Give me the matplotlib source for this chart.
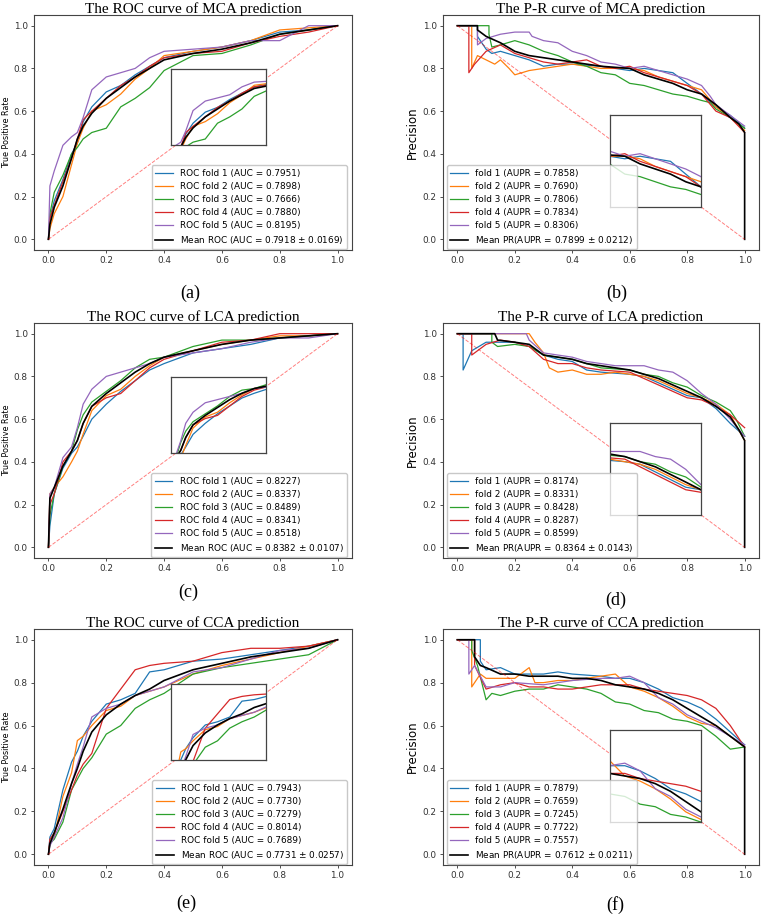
import numpy as np
import matplotlib.pyplot as plt

# ROC curves, read at a shared grid of false positive rates
roc_fpr = [0, 0.005, 0.02, 0.05, 0.08, 0.1, 0.12, 0.15, 0.2, 0.25, 0.3, 0.35, 0.4, 0.5, 0.6, 0.7, 0.8, 0.9, 1.0]

mca_roc_mean = [0, .07, .15, .25, .38, .47, .53, .59, .66, .71, .76, .80, .84, .87, .89, .92, .96, .98, 1]
mca_roc_f1 = [0, .10, .18, .28, .40, .45, .55, .62, .69, .72, .77, .81, .85, .88, .90, .93, .97, .98, 1]
mca_roc_f2 = [0, .05, .12, .20, .35, .45, .52, .60, .63, .68, .75, .80, .86, .88, .90, .93, .98, .99, 1]
mca_roc_f3 = [0, .12, .22, .30, .40, .43, .47, .50, .52, .62, .66, .71, .79, .86, .87, .91, .96, .98, 1]
mca_roc_f4 = [0, .10, .16, .27, .38, .47, .56, .60, .66, .72, .76, .81, .85, .87, .88, .92, .95, .97, 1]
mca_roc_f5 = [0, .25, .32, .44, .48, .50, .57, .70, .76, .78, .80, .85, .88, .89, .90, .93, .93, 1.0, 1]

lca_roc_mean = [0, .23, .28, .38, .45, .50, .58, .66, .72, .77, .82, .86, .89, .92, .95, .97, .98, .99, 1]
lca_roc_f1 = [0, .10, .25, .37, .44, .47, .52, .60, .67, .73, .78, .83, .86, .91, .93, .95, .98, .99, 1]
lca_roc_f2 = [0, .25, .28, .33, .40, .45, .53, .64, .71, .74, .80, .85, .89, .92, .95, .97, .99, .99, 1]
lca_roc_f3 = [0, .15, .25, .38, .45, .55, .62, .68, .73, .78, .84, .88, .89, .94, .97, .97, .98, .99, 1]
lca_roc_f4 = [0, .20, .25, .40, .45, .50, .58, .66, .70, .72, .78, .84, .88, .92, .96, .97, 1.0, 1.0, 1]
lca_roc_f5 = [0, .25, .28, .42, .47, .56, .67, .74, .80, .82, .84, .86, .89, .91, .93, .96, .98, .98, 1]

cca_roc_mean = [0, .05, .10, .21, .33, .40, .48, .57, .65, .70, .74, .77, .81, .86, .89, .92, .94, .96, 1]
cca_roc_f1 = [0, .08, .12, .30, .43, .48, .55, .62, .70, .72, .75, .85, .86, .90, .91, .93, .95, .97, 1]
cca_roc_f2 = [0, .05, .08, .27, .38, .53, .55, .60, .67, .69, .74, .76, .78, .84, .88, .91, .94, .97, 1]
cca_roc_f3 = [0, .05, .07, .15, .30, .35, .40, .45, .56, .60, .68, .72, .75, .84, .87, .89, .91, .93, 1]
cca_roc_f4 = [0, .07, .10, .20, .30, .37, .42, .47, .68, .77, .86, .88, .89, .90, .94, .96, .96, .97, 1]
cca_roc_f5 = [0, .04, .08, .17, .33, .42, .50, .64, .68, .70, .74, .76, .78, .85, .87, .91, .95, .96, 1]

roc_auc_mca = ['0.7951', '0.7898', '0.7666', '0.7880', '0.8195']
roc_auc_lca = ['0.8227', '0.8337', '0.8489', '0.8341', '0.8518']
roc_auc_cca = ['0.7943', '0.7730', '0.7279', '0.8014', '0.7689']
roc_mean_mca = '0.7918 $\\pm$ 0.0169'
roc_mean_lca = '0.8382 $\\pm$ 0.0107'
roc_mean_cca = '0.7731 $\\pm$ 0.0257'

# P-R curves (recall, precision) per fold
mca_pr_mean_r = [0, .07, .07, .10, .15, .20, .25, .30, .35, .40, .45, .50, .60, .65, .70, .75, .80, .85, .90, .95, .98, 1.0, 1.0]
mca_pr_mean_p = [1, 1.0, .98, .95, .92, .88, .86, .85, .84, .83, .82, .81, .80, .77, .75, .73, .70, .68, .63, .57, .54, .50, 0]
mca_pr_r1 = [0, .07, .07, .10, .12, .15, .20, .25, .30, .35, .40, .50, .60, .65, .70, .75, .80, .85, .90, .95, 1.0]
mca_pr_p1 = [1, 1.0, .95, .89, .87, .88, .86, .84, .81, .82, .82, .81, .79, .80, .79, .78, .73, .68, .62, .58, .52]
mca_pr_r2 = [0, .05, .05, .07, .10, .13, .15, .18, .20, .25, .30, .35, .40, .45, .50, .60, .65, .70, .75, .80, .85, .90, .95, 1.0]
mca_pr_p2 = [1, 1.0, .80, .86, .84, .82, .84, .80, .77, .79, .80, .81, .82, .81, .80, .80, .79, .76, .74, .72, .70, .62, .57, .51]
mca_pr_r3 = [0, .11, .11, .12, .15, .20, .25, .30, .35, .40, .45, .50, .55, .60, .65, .70, .75, .80, .85, .88, .90, .95, 1.0]
mca_pr_p3 = [1, 1.0, .96, .90, .91, .93, .91, .88, .86, .83, .81, .78, .77, .73, .72, .70, .68, .67, .65, .64, .61, .57, .52]
mca_pr_r4 = [0, .04, .04, .06, .10, .15, .20, .25, .30, .35, .40, .45, .50, .55, .60, .65, .70, .75, .80, .85, .90, .95, 1.0]
mca_pr_p4 = [1, 1.0, .78, .82, .88, .91, .87, .85, .83, .82, .83, .84, .81, .80, .81, .78, .76, .74, .72, .68, .60, .57, .50]
mca_pr_r5 = [0, .07, .07, .10, .15, .20, .25, .26, .30, .35, .40, .45, .50, .55, .60, .65, .70, .75, .80, .85, .88, .90, .95, 1.0]
mca_pr_p5 = [1, 1.0, .91, .94, .96, .97, .97, .95, .93, .92, .88, .86, .83, .82, .80, .81, .79, .77, .75, .72, .67, .63, .58, .53]

lca_pr_mean_r = [0, .13, .14, .20, .25, .30, .35, .40, .45, .50, .55, .60, .65, .70, .75, .80, .85, .90, .95, .98, 1.0, 1.0]
lca_pr_mean_p = [1, 1.0, .97, .96, .95, .90, .89, .88, .86, .85, .84, .83, .81, .79, .76, .73, .70, .66, .61, .55, .50, 0]
lca_pr_r1 = [0, .02, .02, .05, .10, .15, .20, .25, .30, .35, .40, .45, .50, .60, .65, .70, .75, .80, .85, .90, .95, 1.0]
lca_pr_p1 = [1, 1.0, .83, .92, .96, .96, .96, .94, .90, .88, .87, .83, .82, .81, .80, .77, .74, .71, .70, .65, .58, .52]
lca_pr_r2 = [0, .25, .27, .30, .32, .35, .40, .45, .50, .55, .60, .65, .70, .75, .80, .85, .90, .95, 1.0]
lca_pr_p2 = [1, 1.0, .96, .91, .84, .82, .83, .81, .81, .82, .81, .80, .78, .75, .72, .70, .67, .62, .50]
lca_pr_r3 = [0, .12, .12, .14, .20, .25, .30, .35, .40, .45, .50, .60, .65, .70, .75, .80, .85, .90, .95, .97, 1.0]
lca_pr_p3 = [1, 1.0, .96, .94, .95, .94, .90, .89, .88, .86, .84, .83, .81, .80, .77, .75, .71, .68, .64, .60, .52]
lca_pr_r4 = [0, .05, .05, .10, .15, .20, .25, .30, .35, .40, .45, .50, .60, .65, .70, .75, .80, .85, .90, .95, 1.0]
lca_pr_p4 = [1, 1.0, .90, .95, .97, .96, .94, .88, .86, .86, .84, .83, .82, .79, .76, .73, .70, .69, .66, .62, .56]
lca_pr_r5 = [0, .24, .25, .30, .35, .40, .45, .50, .55, .60, .65, .70, .75, .80, .85, .90, .95, .98, 1.0]
lca_pr_p5 = [1, 1.0, .97, .91, .90, .89, .87, .86, .85, .85, .85, .83, .82, .78, .72, .67, .60, .55, .52]

cca_pr_mean_r = [0, .06, .06, .08, .10, .15, .20, .25, .30, .35, .40, .45, .50, .55, .60, .65, .70, .75, .80, .85, .90, .95, 1.0, 1.0]
cca_pr_mean_p = [1, 1.0, .92, .88, .87, .84, .84, .83, .83, .83, .82, .82, .81, .79, .78, .77, .75, .72, .68, .64, .60, .55, .50, 0]
cca_pr_r1 = [0, .08, .08, .10, .15, .20, .30, .35, .40, .50, .55, .60, .65, .70, .75, .80, .85, .90, .95, 1.0]
cca_pr_p1 = [1, 1.0, .90, .86, .87, .84, .84, .85, .84, .83, .82, .82, .80, .77, .73, .71, .68, .63, .57, .51]
cca_pr_r2 = [0, .05, .05, .08, .10, .15, .20, .25, .27, .30, .35, .40, .45, .50, .55, .60, .65, .70, .75, .80, .85, .90, .95, 1.0]
cca_pr_p2 = [1, 1.0, .78, .84, .82, .82, .82, .87, .80, .80, .81, .81, .82, .83, .84, .78, .76, .73, .69, .64, .61, .60, .55, .50]
cca_pr_r3 = [0, .05, .05, .07, .10, .12, .15, .20, .25, .30, .35, .40, .45, .50, .55, .60, .65, .70, .75, .80, .85, .90, .95, 1.0]
cca_pr_p3 = [1, 1.0, .95, .88, .72, .75, .74, .76, .77, .77, .79, .78, .77, .75, .71, .70, .67, .66, .63, .62, .60, .55, .49, .50]
cca_pr_r4 = [0, .06, .06, .10, .15, .20, .25, .30, .35, .40, .45, .50, .55, .60, .65, .70, .75, .80, .85, .90, .95, 1.0]
cca_pr_p4 = [1, 1.0, .88, .77, .79, .80, .78, .78, .77, .77, .78, .79, .79, .79, .77, .76, .75, .74, .72, .68, .60, .50]
cca_pr_r5 = [0, .04, .04, .06, .10, .15, .20, .30, .35, .40, .50, .55, .60, .65, .70, .75, .80, .85, .90, .95, 1.0]
cca_pr_p5 = [1, 1.0, .84, .88, .78, .78, .80, .79, .80, .81, .82, .82, .83, .80, .73, .70, .65, .62, .59, .55, .51]

pr_aupr_mca = ['0.7858', '0.7690', '0.7806', '0.7834', '0.8306']
pr_aupr_lca = ['0.8174', '0.8331', '0.8428', '0.8287', '0.8599']
pr_aupr_cca = ['0.7879', '0.7659', '0.7245', '0.7722', '0.7557']
pr_mean_mca = '0.7899 $\\pm$ 0.0212'
pr_mean_lca = '0.8364 $\\pm$ 0.0143'
pr_mean_cca = '0.7612 $\\pm$ 0.0211'

colors = ['C0', 'C1', 'C2', 'C3', 'C4']
W, H = 761, 915
fig = plt.figure(figsize=(W / 100, H / 100), dpi=100)


def make_ax(left, top, right, bottom, title):
    ax = fig.add_axes([left / W, 1 - bottom / H, (right - left) / W, (bottom - top) / H])
    ax.set_xlim(-0.05, 1.05)
    ax.set_ylim(-0.05, 1.05)
    ax.set_xticks(np.arange(0, 1.01, 0.2))
    ax.set_yticks(np.arange(0, 1.01, 0.2))
    ax.tick_params(labelsize=6.4, length=2.5, width=0.6, pad=2, colors='#333333')
    for s in ax.spines.values():
        s.set_color('#444444')
        s.set_linewidth(0.8)
    # title placed by hand, baseline a few pixels over the frame
    fig.text((left + right) / 2 / W, 1 - (top - 2.5) / H, title,
             family='Liberation Serif', fontsize=11, ha='center', va='baseline')
    return ax


def style_inset(ins):
    ins.set_xticks([])
    ins.set_yticks([])
    for s in ins.spines.values():
        s.set_color('#444444')
        s.set_linewidth(0.9)


def roc_panel(box, title, folds, mean, aucs, mean_auc):
    ax = make_ax(*box, title)
    ins = ax.inset_axes([0.424, 0.44, 0.33, 0.355], transform=ax.transData)
    for i, y in enumerate(folds):
        ax.plot(roc_fpr, y, color=colors[i], lw=0.9,
                label='ROC fold %d (AUC = %s)' % (i + 1, aucs[i]))
        ins.plot(roc_fpr, y, color=colors[i], lw=0.9)
    ax.plot(roc_fpr, mean, color='k', lw=1.2, label='Mean ROC (AUC = %s)' % mean_auc)
    ins.plot(roc_fpr, mean, color='k', lw=1.2)
    ax.plot([0, 1], [0, 1], ls='--', color='r', alpha=0.5, lw=0.7)
    ins.set_xlim(0.06, 0.45)
    ins.set_ylim(0.48, 0.96)
    style_inset(ins)
    ax.set_ylabel('True Positive Rate', fontsize=5.8, labelpad=2)
    ax.legend(loc='lower right', bbox_to_anchor=(0.985, 0.003), borderaxespad=0,
              fontsize=6.4, labelspacing=0.45, edgecolor='#bbbbbb')
    return ax


def pr_panel(box, title, rs, ps, mr, mp, auprs, mean_aupr):
    ax = make_ax(*box, title)
    ins = ax.inset_axes([0.53, 0.15, 0.318, 0.43], transform=ax.transData)
    for i in range(5):
        ax.plot(rs[i], ps[i], color=colors[i], lw=0.9,
                label='fold %d (AUPR = %s)' % (i + 1, auprs[i]))
        ins.plot(rs[i], ps[i], color=colors[i], lw=0.9)
    ax.plot(mr, mp, color='k', lw=1.2, label='Mean PR(AUPR = %s)' % mean_aupr)
    ins.plot(mr, mp, color='k', lw=1.2)
    ax.plot([0, 1], [1, 0], ls='--', color='r', alpha=0.5, lw=0.7)
    ins.set_xlim(0.55, 0.85)
    ins.set_ylim(0.60, 0.96)
    style_inset(ins)
    ax.set_ylabel('Precision', fontsize=8.5, labelpad=3)
    ax.legend(loc='lower left', bbox_to_anchor=(0.012, 0.003), borderaxespad=0,
              fontsize=6.4, labelspacing=0.45, edgecolor='#bbbbbb')
    return ax


roc_panel((34, 15, 352, 250), 'The ROC curve of MCA prediction',
          [mca_roc_f1, mca_roc_f2, mca_roc_f3, mca_roc_f4, mca_roc_f5], mca_roc_mean,
          roc_auc_mca, roc_mean_mca)
roc_panel((34, 323, 352, 558), 'The ROC curve of LCA prediction',
          [lca_roc_f1, lca_roc_f2, lca_roc_f3, lca_roc_f4, lca_roc_f5], lca_roc_mean,
          roc_auc_lca, roc_mean_lca)
roc_panel((34, 629, 352, 865), 'The ROC curve of CCA prediction',
          [cca_roc_f1, cca_roc_f2, cca_roc_f3, cca_roc_f4, cca_roc_f5], cca_roc_mean,
          roc_auc_cca, roc_mean_cca)

pr_panel((443, 15, 759, 250), 'The P-R curve of MCA prediction',
         [mca_pr_r1, mca_pr_r2, mca_pr_r3, mca_pr_r4, mca_pr_r5],
         [mca_pr_p1, mca_pr_p2, mca_pr_p3, mca_pr_p4, mca_pr_p5],
         mca_pr_mean_r, mca_pr_mean_p, pr_aupr_mca, pr_mean_mca)
pr_panel((443, 323, 759, 558), 'The P-R curve of LCA prediction',
         [lca_pr_r1, lca_pr_r2, lca_pr_r3, lca_pr_r4, lca_pr_r5],
         [lca_pr_p1, lca_pr_p2, lca_pr_p3, lca_pr_p4, lca_pr_p5],
         lca_pr_mean_r, lca_pr_mean_p, pr_aupr_lca, pr_mean_lca)
pr_panel((443, 629, 759, 865), 'The P-R curve of CCA prediction',
         [cca_pr_r1, cca_pr_r2, cca_pr_r3, cca_pr_r4, cca_pr_r5],
         [cca_pr_p1, cca_pr_p2, cca_pr_p3, cca_pr_p4, cca_pr_p5],
         cca_pr_mean_r, cca_pr_mean_p, pr_aupr_cca, pr_mean_cca)

# sub-figure letters
for lab, x, y in [('(a)', 190, 293), ('(b)', 617, 293), ('(c)', 188, 592),
                  ('(d)', 616, 600), ('(e)', 186, 903), ('(f)', 615, 905)]:
    fig.text(x / W, 1 - y / H, lab, family='Liberation Serif', fontsize=13,
             ha='center', va='center')

fig.savefig('out.png', dpi=100)
